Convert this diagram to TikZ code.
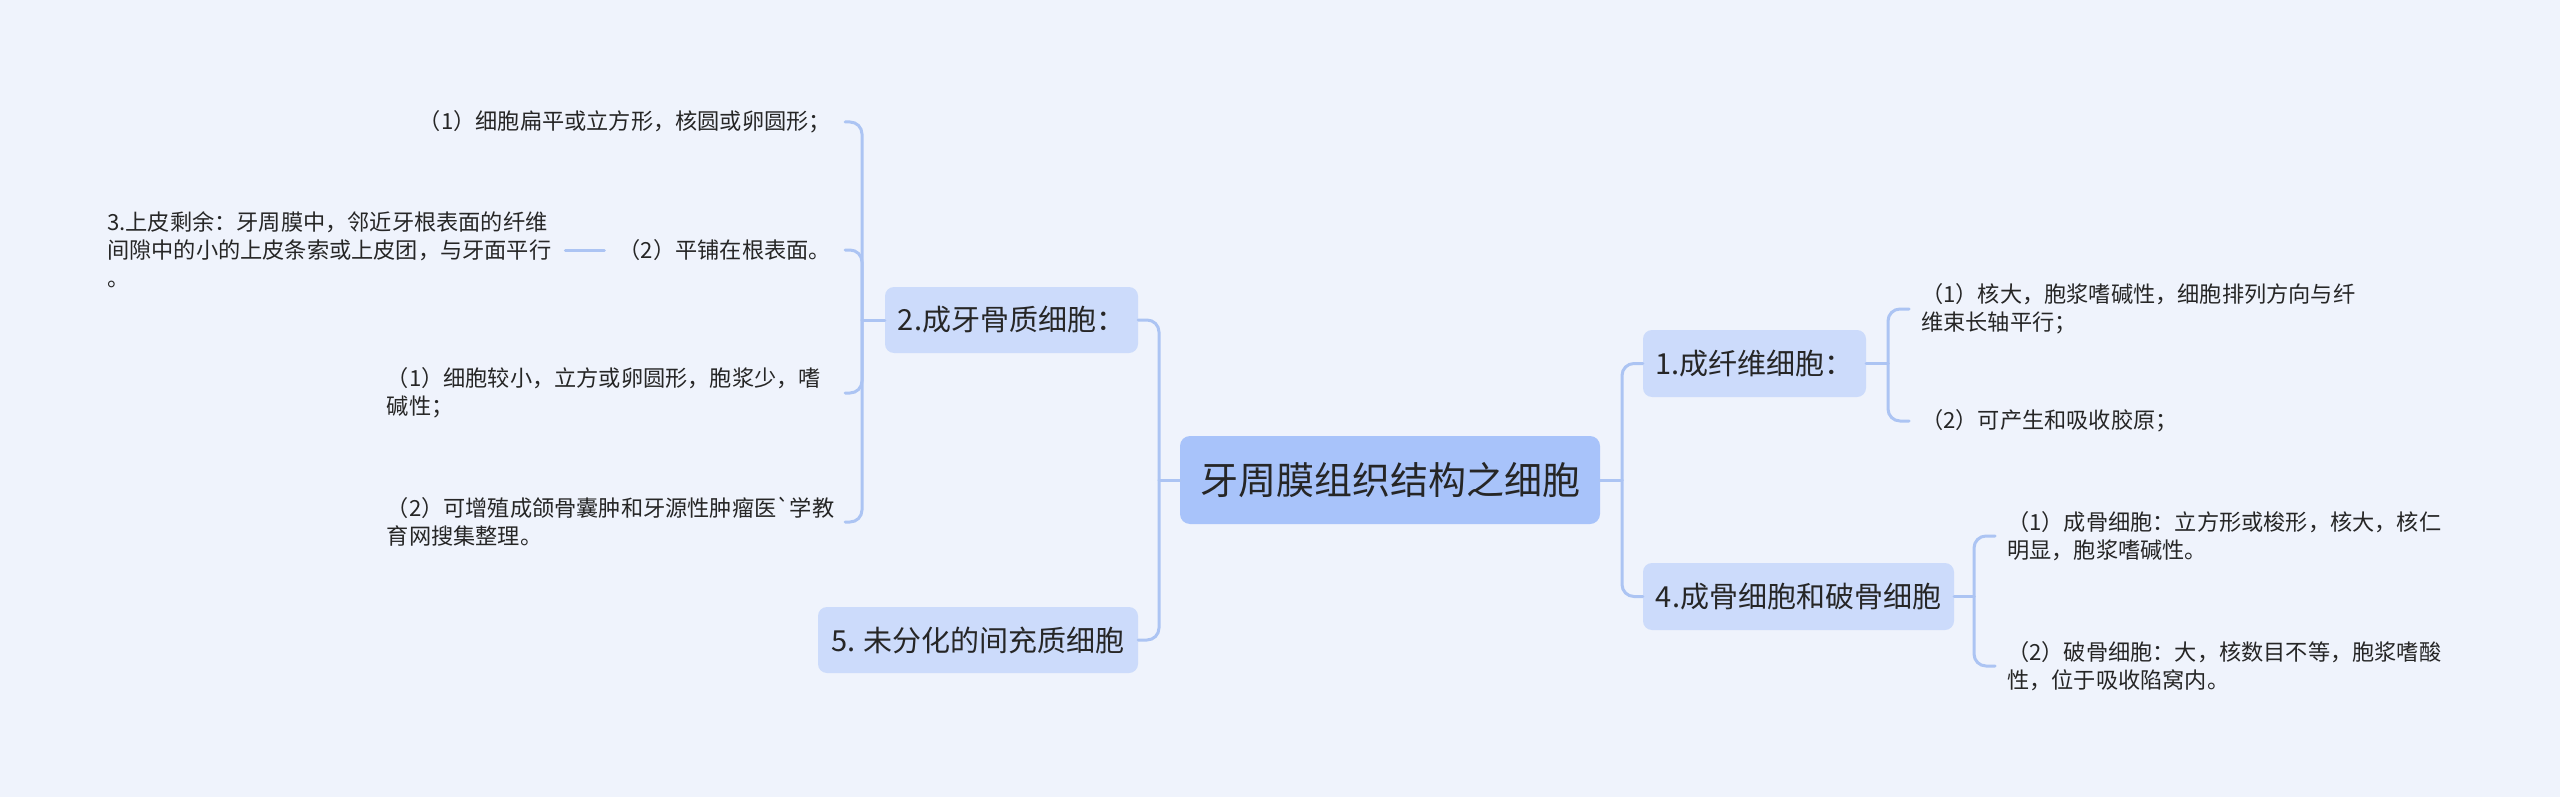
\documentclass[tikz,border=0pt]{standalone}
\usepackage{fontspec}
\newfontfamily\cjk{Noto Sans CJK SC}
\definecolor{bgc}{RGB}{239,243,252}
\definecolor{rootc}{RGB}{168,195,250}
\definecolor{lonec}{RGB}{204,219,251}
\definecolor{linec}{RGB}{172,196,243}
\definecolor{txt}{RGB}{38,38,38}
\tikzset{
  rootbox/.style={fill=rootc, rounded corners=10pt, minimum width=420pt, minimum height=88pt, inner sep=0pt, text=txt, font=\cjk\fontsize{38}{46}\selectfont},
  lonebox/.style={fill=lonec, rounded corners=9pt, minimum height=67pt, inner sep=0pt, text=txt, font=\cjk\fontsize{29}{35}\selectfont},
  leaf/.style={inner sep=0pt, align=left, text=txt, font=\cjk\fontsize{22.2}{28}\selectfont},
  conn/.style={draw=linec, line width=3pt, line cap=round},
  branchline/.style={conn, rounded corners=12pt},
}
\begin{document}
\begin{tikzpicture}[x=1pt,y=-1pt]
\fill[bgc] (0,0) rectangle (2560,797);
\useasboundingbox (0,0) rectangle (2560,797);

% nodes
\node[rootbox] (root) at (1390,480) {牙周膜组织结构之细胞};
\node[lonebox, minimum width=223pt] (n1) at (1754.5,363.5) {1.成纤维细胞：};
\node[lonebox, minimum width=311pt] (n4) at (1798.5,596.5) {4.成骨细胞和破骨细胞};
\node[lonebox, minimum width=253pt, minimum height=66pt] (n2) at (1011.5,320) {2.成牙骨质细胞：};
\node[lonebox, minimum width=320pt, minimum height=66pt] (n5) at (978,640) {5. 未分化的间充质细胞};

% left leaves
\node[leaf, anchor=east] (c21) at (831,122) {（1）细胞扁平或立方形，核圆或卵圆形；};
\node[leaf, anchor=east] (c22) at (831,250) {（2）平铺在根表面。};
\node[leaf, anchor=east, text width=444pt] (c23) at (831,393) {（1）细胞较小，立方或卵圆形，胞浆少，嗜\\碱性；};
\node[leaf, anchor=east, text width=444pt] (c24) at (831,522) {（2）可增殖成颌骨囊肿和牙源性肿瘤医\symbol{96}学教\\育网搜集整理。};
\node[leaf, anchor=west] (c3) at (107,250) {3.上皮剩余：牙周膜中，邻近牙根表面的纤维\\间隙中的小的上皮条索或上皮团，与牙面平行\\。};

% right leaves
\node[leaf, anchor=west] (c11) at (1921,309) {（1）核大，胞浆嗜碱性，细胞排列方向与纤\\维束长轴平行；};
\node[leaf, anchor=west] (c12) at (1921,421) {（2）可产生和吸收胶原；};
\node[leaf, anchor=west] (c41) at (2007,536) {（1）成骨细胞：立方形或梭形，核大，核仁\\明显，胞浆嗜碱性。};
\node[leaf, anchor=west] (c42) at (2007,666) {（2）破骨细胞：大，核数目不等，胞浆嗜酸\\性，位于吸收陷窝内。};

% trunk coordinates
\coordinate (tR) at (1622,480);
\coordinate (tL) at (1159,480);
\coordinate (t1) at (1888,363.5);
\coordinate (t4) at (1974,596.5);
\coordinate (t2) at (862,320);

% root connectors
\draw[conn] (root.east) -- (tR);
\draw[branchline] (tR) |- (n1.west);
\draw[branchline] (tR) |- (n4.west);
\draw[conn] (root.west) -- (tL);
\draw[branchline] (tL) |- (n2.east);
\draw[branchline] (tL) |- (n5.east);

% n1 children
\draw[conn] (n1.east) -- (t1);
\draw[branchline] (t1) |- ([xshift=-12pt]c11.west);
\draw[branchline] (t1) |- ([xshift=-12pt]c12.west);

% n4 children
\draw[conn] (n4.east) -- (t4);
\draw[branchline] (t4) |- ([xshift=-12pt]c41.west);
\draw[branchline] (t4) |- ([xshift=-12pt]c42.west);

% n2 children
\draw[conn] (n2.west) -- (t2);
\draw[branchline] (t2) |- ([xshift=14pt]c21.east);
\draw[branchline] (t2) |- ([xshift=14pt]c22.east);
\draw[branchline] (t2) |- ([xshift=14pt]c23.east);
\draw[branchline] (t2) |- ([xshift=14pt]c24.east);

% c22 to c3
\draw[conn, shorten <=14pt, shorten >=14pt] (c22.west) -- (c3.east);
\end{tikzpicture}
\end{document}
